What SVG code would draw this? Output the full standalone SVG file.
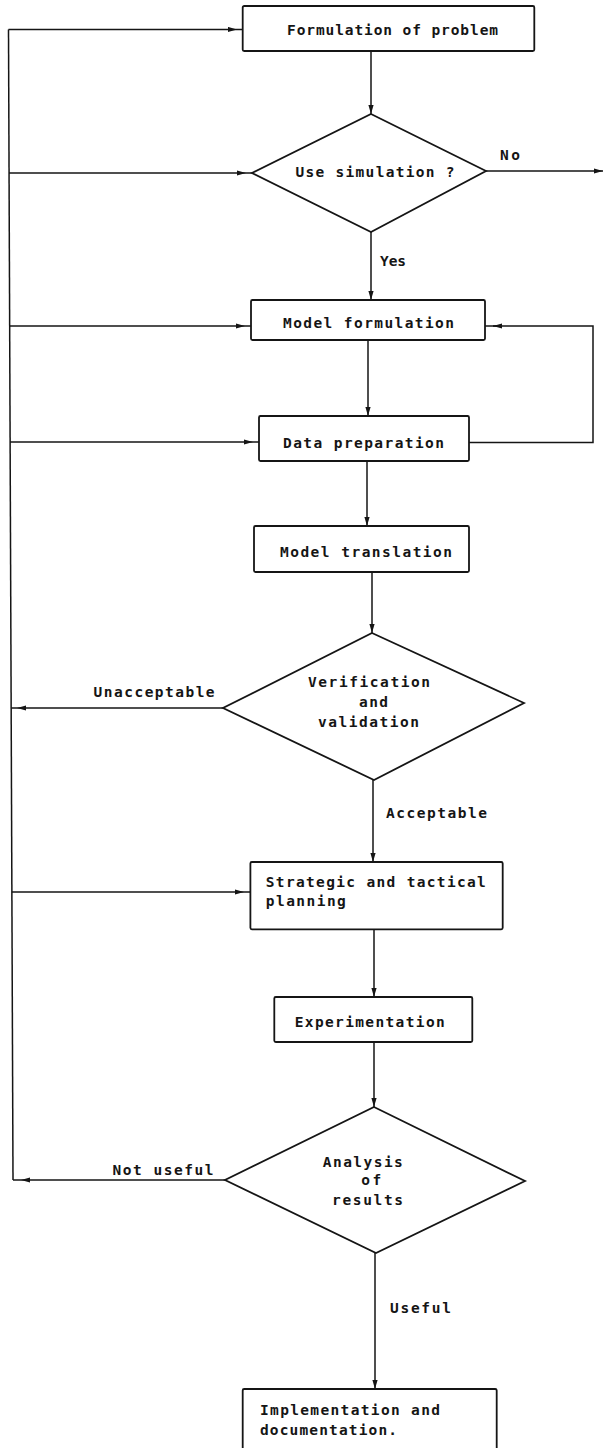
<svg xmlns="http://www.w3.org/2000/svg" width="604" height="1448" viewBox="0 0 604 1448">
  <defs>
    <style>
      .node { fill: #ffffff; stroke: #151515; stroke-width: 1.8; }
      .conn { fill: none; stroke: #151515; stroke-width: 1.5; }
      text { font-family: "DejaVu Sans Mono", "Liberation Mono", monospace; font-size: 14.5px; font-weight: bold; fill: #151515; }
    </style>
    <marker id="arrow" viewBox="0 0 9 6" refX="9" refY="3" markerWidth="9" markerHeight="6" markerUnits="userSpaceOnUse" orient="auto">
      <path d="M0,0.4 L9,3 L0,5.6 z" fill="#151515"/>
    </marker>
  </defs>

  <rect width="604" height="1448" fill="#ffffff"/>

  <!-- connectors -->
  <g id="connectors">
    <!-- return bus on the left -->
    <path class="conn" d="M8.5,29.5 L13,1180"/>
    <!-- bus feeds back into the stages -->
    <path class="conn" d="M8.5,29.5 H237 H243" marker-mid="url(#arrow)"/>
    <path class="conn" d="M9,173 H246 H252" marker-mid="url(#arrow)"/>
    <path class="conn" d="M9.7,326 H245 H251" marker-mid="url(#arrow)"/>
    <path class="conn" d="M10.1,442 H253 H259" marker-mid="url(#arrow)"/>
    <path class="conn" d="M11.9,892 H244 H250" marker-mid="url(#arrow)"/>
    <!-- rejections back to the bus -->
    <path class="conn" d="M223,708 H17 H11.2" marker-mid="url(#arrow)"/>
    <path class="conn" d="M225,1180 H21 H13" marker-mid="url(#arrow)"/>
    <!-- No exit -->
    <path class="conn" d="M486,171 H603" marker-end="url(#arrow)"/>
    <!-- data preparation back to model formulation -->
    <path class="conn" d="M469,442.5 H593 V326 H493"/>
    <path class="conn" d="M500,326 H493 H485" marker-mid="url(#arrow)"/>
    <!-- main flow -->
    <path class="conn" d="M371,51 V114" marker-end="url(#arrow)"/>
    <path class="conn" d="M371,232 V300" marker-end="url(#arrow)"/>
    <path class="conn" d="M368,340 V416" marker-end="url(#arrow)"/>
    <path class="conn" d="M367,461 V526" marker-end="url(#arrow)"/>
    <path class="conn" d="M372,572 V633" marker-end="url(#arrow)"/>
    <path class="conn" d="M373,780 V862" marker-end="url(#arrow)"/>
    <path class="conn" d="M374,929 V997" marker-end="url(#arrow)"/>
    <path class="conn" d="M374,1042 V1107" marker-end="url(#arrow)"/>
    <path class="conn" d="M375,1253 V1389" marker-end="url(#arrow)"/>
    <!-- branch labels -->
    <text x="500" y="160" textLength="20" lengthAdjust="spacing">No</text>
    <text x="380" y="266" textLength="26" lengthAdjust="spacing">Yes</text>
    <text x="93.6" y="697" textLength="121" lengthAdjust="spacing">Unacceptable</text>
    <text x="386" y="818" textLength="101" lengthAdjust="spacing">Acceptable</text>
    <text x="112.5" y="1175" textLength="101" lengthAdjust="spacing">Not useful</text>
    <text x="390" y="1313" textLength="61" lengthAdjust="spacing">Useful</text>
  </g>

  <g id="formulation-of-problem">
    <rect class="node" x="242.7" y="6" width="291.6" height="45" rx="1.5"/>
    <text x="287" y="35" textLength="211" lengthAdjust="spacing">Formulation of problem</text>
  </g>

  <g id="use-simulation">
    <path class="node" d="M371,114 L486,171 L371,232 L252,173 z"/>
    <text x="295.5" y="177" textLength="159" lengthAdjust="spacing">Use simulation ?</text>
  </g>

  <g id="model-formulation">
    <rect class="node" x="251" y="300" width="234" height="40" rx="1.5"/>
    <text x="283" y="328" textLength="171" lengthAdjust="spacing">Model formulation</text>
  </g>

  <g id="data-preparation">
    <rect class="node" x="259" y="416" width="210" height="45" rx="1.5"/>
    <text x="283" y="448" textLength="161" lengthAdjust="spacing">Data preparation</text>
  </g>

  <g id="model-translation">
    <rect class="node" x="254" y="526" width="215" height="46" rx="1.5"/>
    <text x="280" y="557" textLength="172" lengthAdjust="spacing">Model translation</text>
  </g>

  <g id="verification-and-validation">
    <path class="node" d="M372,633 L524,703 L374,780 L223,708 z"/>
    <text x="308" y="687" textLength="122" lengthAdjust="spacing">Verification</text>
    <text x="359" y="707" textLength="29" lengthAdjust="spacing">and</text>
    <text x="318" y="727" textLength="101" lengthAdjust="spacing">validation</text>
  </g>

  <g id="strategic-and-tactical-planning">
    <rect class="node" x="250.4" y="862" width="252.3" height="67.3" rx="1.5"/>
    <text x="265.8" y="887" textLength="220" lengthAdjust="spacing">Strategic and tactical</text>
    <text x="265.8" y="906" textLength="80" lengthAdjust="spacing">planning</text>
  </g>

  <g id="experimentation">
    <rect class="node" x="274.3" y="997" width="198" height="45" rx="1.5"/>
    <text x="294.7" y="1027" textLength="150" lengthAdjust="spacing">Experimentation</text>
  </g>

  <g id="analysis-of-results">
    <path class="node" d="M374,1107 L525,1181 L376,1253 L225,1180 z"/>
    <text x="322.8" y="1167" textLength="80" lengthAdjust="spacing">Analysis</text>
    <text x="361.3" y="1185" textLength="20" lengthAdjust="spacing">of</text>
    <text x="332" y="1205" textLength="71" lengthAdjust="spacing">results</text>
  </g>

  <g id="implementation-and-documentation">
    <rect class="node" x="242.7" y="1389" width="254" height="64" rx="1.5"/>
    <text x="260" y="1415" textLength="180" lengthAdjust="spacing">Implementation and</text>
    <text x="260" y="1435" textLength="137" lengthAdjust="spacing">documentation.</text>
  </g>
</svg>
